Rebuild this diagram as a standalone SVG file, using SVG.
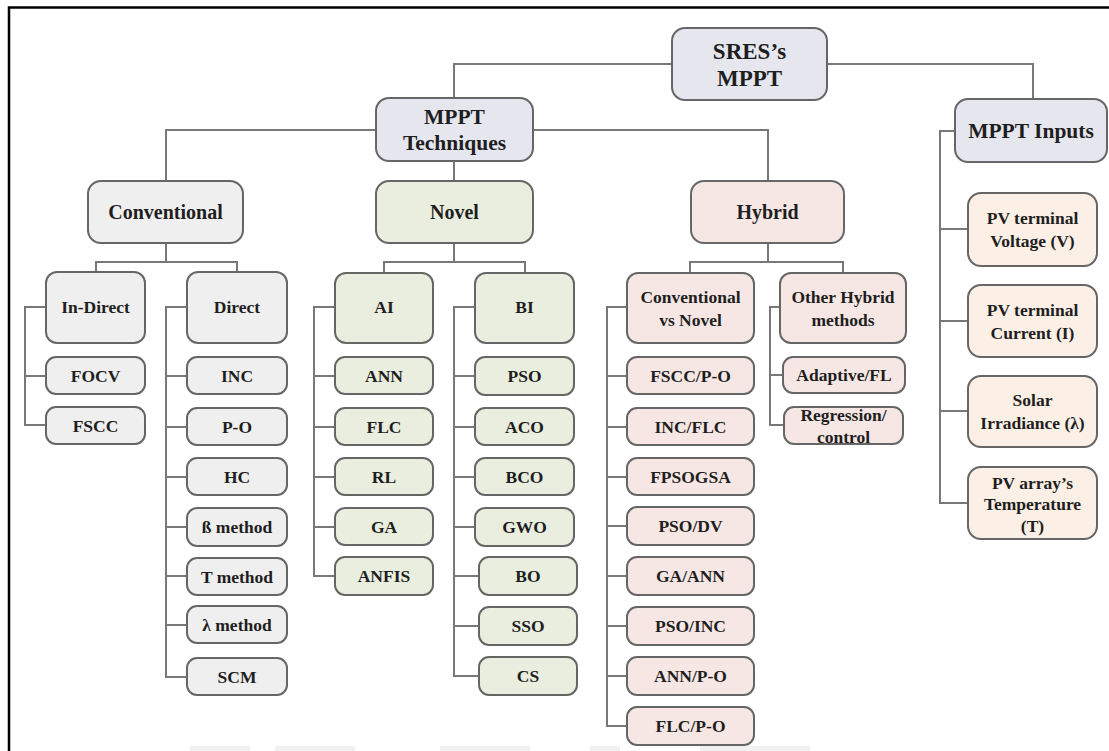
<svg xmlns="http://www.w3.org/2000/svg" width="1109" height="751" viewBox="0 0 1109 751">
  <style>
    .box { stroke: #666666; stroke-width: 2; }
    .lav { fill: #e6e6ef; }
    .gry { fill: #efefef; }
    .grn { fill: #e9eedf; }
    .pnk { fill: #f6e7e4; }
    .pch { fill: #fcefe5; }
    text { font-family: "Liberation Serif", "Times New Roman", serif; font-weight: bold; fill: #1e1e1e; text-anchor: middle; dominant-baseline: central; }
    .top { font-size: 23px; }
    .big { font-size: 21.5px; }
    .mid { font-size: 20px; }
    .sm { font-size: 17.5px; }
    .wire { fill: none; stroke: #787878; stroke-width: 2; }
  </style>

  <rect width="1109" height="751" fill="#ffffff"/>

  <!-- outer frame (top and left edges) -->
  <path d="M9 751 V7.5 H1109" fill="none" stroke="#000" stroke-width="2.5"/>

  <!-- faint strip along the bottom edge -->
  <g fill="#f1f1f1">
    <rect x="190" y="746" width="60" height="5"/>
    <rect x="275" y="746" width="80" height="5"/>
    <rect x="440" y="746" width="90" height="5"/>
    <rect x="590" y="746" width="30" height="5"/>
    <rect x="700" y="746" width="110" height="5"/>
  </g>

  <!-- connectors -->
  <g id="connectors" class="wire">
    <path d="M454 98 V64 H672 M827 64 H1033 V98"/>
    <path d="M376 130 H166 V181 M533 130 H768 V181 M454 161 V181"/>
    <path d="M166 243 V262 M96 272 V262 H237 V272"/>
    <path d="M454 243 V262 M384 272 V262 H525 V272"/>
    <path d="M768 243 V262 M690 272 V262 H843 V272"/>
    <!-- In-Direct -->
    <path d="M46 307 H25 V425 H46 M25 376 H46"/>
    <!-- Direct -->
    <path d="M187 307 H166 V677 H187 M166 376 H187 M166 427 H187 M166 477 H187 M166 527 H187 M166 576 H187 M166 625 H187"/>
    <!-- AI -->
    <path d="M335 307 H314 V576 H335 M314 376 H335 M314 427 H335 M314 477 H335 M314 527 H335"/>
    <!-- BI -->
    <path d="M475 307 H454 V676 H479 M454 376 H475 M454 427 H475 M454 477 H475 M454 527 H475 M454 576 H479 M454 626 H479"/>
    <!-- Conventional vs Novel -->
    <path d="M627 307 H607 V726 H627 M607 376 H627 M607 427 H627 M607 477 H627 M607 526 H627 M607 576 H627 M607 626 H627 M607 676 H627"/>
    <!-- Other Hybrid methods -->
    <path d="M780 307 H770 V425 H784 M770 375 H783"/>
    <!-- MPPT Inputs -->
    <path d="M955 131 H940 V503 H968 M940 229 H968 M940 321 H968 M940 411 H968"/>
  </g>

  <!-- top level -->
  <g id="sres">
    <rect class="box lav" x="672" y="28" width="155" height="72" rx="13"/>
    <text class="top" x="749.5" y="51">SRES’s</text>
    <text class="top" x="749.5" y="78">MPPT</text>
  </g>
  <g id="techniques">
    <rect class="box lav" x="376" y="98" width="157" height="63" rx="13"/>
    <text class="big" x="454.5" y="117">MPPT</text>
    <text class="big" x="454.5" y="143">Techniques</text>
  </g>
  <g id="inputs">
    <rect class="box lav" x="955" y="99" width="152" height="63" rx="13"/>
    <text class="big" x="1031" y="131">MPPT Inputs</text>
  </g>

  <!-- categories -->
  <g id="conventional">
    <rect class="box gry" x="88" y="181" width="155" height="62" rx="13"/>
    <text class="mid" x="165.5" y="212">Conventional</text>
  </g>
  <g id="novel">
    <rect class="box grn" x="376" y="181" width="157" height="62" rx="13"/>
    <text class="mid" x="454.5" y="212">Novel</text>
  </g>
  <g id="hybrid">
    <rect class="box pnk" x="691" y="181" width="153" height="62" rx="13"/>
    <text class="mid" x="767.5" y="212">Hybrid</text>
  </g>

  <!-- conventional branch -->
  <g id="indirect">
    <rect class="box gry" x="46" y="272" width="99" height="71" rx="11"/>
    <text class="sm" x="95.5" y="307">In-Direct</text>
  </g>
  <g id="focv"><rect class="box gry" x="46" y="357" width="99" height="37" rx="10"/><text class="sm" x="95.5" y="375.5">FOCV</text></g>
  <g id="fscc"><rect class="box gry" x="46" y="407" width="99" height="37" rx="10"/><text class="sm" x="95.5" y="425.5">FSCC</text></g>

  <g id="direct">
    <rect class="box gry" x="187" y="272" width="100" height="71" rx="11"/>
    <text class="sm" x="237" y="307">Direct</text>
  </g>
  <g id="inc"><rect class="box gry" x="187" y="357" width="100" height="37" rx="10"/><text class="sm" x="237" y="375.5">INC</text></g>
  <g id="po"><rect class="box gry" x="187" y="408" width="100" height="37" rx="10"/><text class="sm" x="237" y="426.5">P-O</text></g>
  <g id="hc"><rect class="box gry" x="187" y="458" width="100" height="37" rx="10"/><text class="sm" x="237" y="476.5">HC</text></g>
  <g id="beta"><rect class="box gry" x="187" y="508" width="100" height="38" rx="10"/><text class="sm" x="237" y="527">ß method</text></g>
  <g id="tmethod"><rect class="box gry" x="187" y="558" width="100" height="37" rx="10"/><text class="sm" x="237" y="576.5">T method</text></g>
  <g id="lambda"><rect class="box gry" x="187" y="606" width="100" height="37" rx="10"/><text class="sm" x="237" y="624.5">λ method</text></g>
  <g id="scm"><rect class="box gry" x="187" y="658" width="100" height="37" rx="10"/><text class="sm" x="237" y="676.5">SCM</text></g>

  <!-- novel branch -->
  <g id="ai">
    <rect class="box grn" x="335" y="273" width="98" height="70" rx="11"/>
    <text class="sm" x="384" y="307">AI</text>
  </g>
  <g id="ann"><rect class="box grn" x="335" y="357" width="98" height="37" rx="10"/><text class="sm" x="384" y="375.5">ANN</text></g>
  <g id="flc"><rect class="box grn" x="335" y="408" width="98" height="37" rx="10"/><text class="sm" x="384" y="426.5">FLC</text></g>
  <g id="rl"><rect class="box grn" x="335" y="458" width="98" height="37" rx="10"/><text class="sm" x="384" y="476.5">RL</text></g>
  <g id="ga"><rect class="box grn" x="335" y="508" width="98" height="37" rx="10"/><text class="sm" x="384" y="526.5">GA</text></g>
  <g id="anfis"><rect class="box grn" x="335" y="557" width="98" height="38" rx="10"/><text class="sm" x="384" y="576">ANFIS</text></g>

  <g id="bi">
    <rect class="box grn" x="475" y="273" width="99" height="70" rx="11"/>
    <text class="sm" x="524.5" y="307">BI</text>
  </g>
  <g id="pso"><rect class="box grn" x="475" y="357" width="99" height="38" rx="10"/><text class="sm" x="524.5" y="376">PSO</text></g>
  <g id="aco"><rect class="box grn" x="475" y="408" width="99" height="37" rx="10"/><text class="sm" x="524.5" y="426.5">ACO</text></g>
  <g id="bco"><rect class="box grn" x="475" y="458" width="99" height="37" rx="10"/><text class="sm" x="524.5" y="476.5">BCO</text></g>
  <g id="gwo"><rect class="box grn" x="475" y="508" width="99" height="38" rx="10"/><text class="sm" x="524.5" y="527">GWO</text></g>
  <g id="bo"><rect class="box grn" x="479" y="557" width="98" height="38" rx="10"/><text class="sm" x="528" y="576">BO</text></g>
  <g id="sso"><rect class="box grn" x="479" y="607" width="98" height="38" rx="10"/><text class="sm" x="528" y="626">SSO</text></g>
  <g id="cs"><rect class="box grn" x="479" y="657" width="98" height="38" rx="10"/><text class="sm" x="528" y="676">CS</text></g>

  <!-- hybrid branch -->
  <g id="cvn">
    <rect class="box pnk" x="627" y="273" width="127" height="70" rx="11"/>
    <text class="sm" x="690.5" y="297">Conventional</text>
    <text class="sm" x="690.5" y="320">vs Novel</text>
  </g>
  <g id="fsccpo"><rect class="box pnk" x="627" y="357" width="127" height="37" rx="10"/><text class="sm" x="690.5" y="375.5">FSCC/P-O</text></g>
  <g id="incflc"><rect class="box pnk" x="627" y="408" width="127" height="37" rx="10"/><text class="sm" x="690.5" y="426.5">INC/FLC</text></g>
  <g id="fpsogsa"><rect class="box pnk" x="627" y="458" width="127" height="37" rx="10"/><text class="sm" x="690.5" y="476.5">FPSOGSA</text></g>
  <g id="psodv"><rect class="box pnk" x="627" y="507" width="127" height="38" rx="10"/><text class="sm" x="690.5" y="526">PSO/DV</text></g>
  <g id="gaann"><rect class="box pnk" x="627" y="557" width="127" height="38" rx="10"/><text class="sm" x="690.5" y="576">GA/ANN</text></g>
  <g id="psoinc"><rect class="box pnk" x="627" y="607" width="127" height="38" rx="10"/><text class="sm" x="690.5" y="626">PSO/INC</text></g>
  <g id="annpo"><rect class="box pnk" x="627" y="657" width="127" height="38" rx="10"/><text class="sm" x="690.5" y="676">ANN/P-O</text></g>
  <g id="flcpo"><rect class="box pnk" x="627" y="707" width="127" height="38" rx="10"/><text class="sm" x="690.5" y="726">FLC/P-O</text></g>

  <g id="other">
    <rect class="box pnk" x="780" y="273" width="126" height="70" rx="11"/>
    <text class="sm" x="843" y="297">Other Hybrid</text>
    <text class="sm" x="843" y="320">methods</text>
  </g>
  <g id="adaptive"><rect class="box pnk" x="783" y="357" width="122" height="36" rx="10"/><text class="sm" x="844" y="375">Adaptive/FL</text></g>
  <g id="regression">
    <rect class="box pnk" x="784" y="407" width="119" height="37" rx="10"/>
    <text class="sm" x="843.5" y="415">Regression/</text>
    <text class="sm" x="843.5" y="437">control</text>
  </g>

  <!-- inputs branch -->
  <g id="voltage">
    <rect class="box pch" x="968" y="193" width="129" height="73" rx="13"/>
    <text class="sm" x="1032.5" y="218">PV terminal</text>
    <text class="sm" x="1032.5" y="241">Voltage (V)</text>
  </g>
  <g id="current">
    <rect class="box pch" x="968" y="285" width="129" height="72" rx="13"/>
    <text class="sm" x="1032.5" y="310">PV terminal</text>
    <text class="sm" x="1032.5" y="333">Current (I)</text>
  </g>
  <g id="irradiance">
    <rect class="box pch" x="968" y="376" width="129" height="71" rx="13"/>
    <text class="sm" x="1032.5" y="400">Solar</text>
    <text class="sm" x="1032.5" y="423">Irradiance (λ)</text>
  </g>
  <g id="temperature">
    <rect class="box pch" x="968" y="467" width="129" height="72" rx="13"/>
    <text class="sm" x="1032.5" y="483">PV array’s</text>
    <text class="sm" x="1032.5" y="504">Temperature</text>
    <text class="sm" x="1032.5" y="526">(T)</text>
  </g>
</svg>
